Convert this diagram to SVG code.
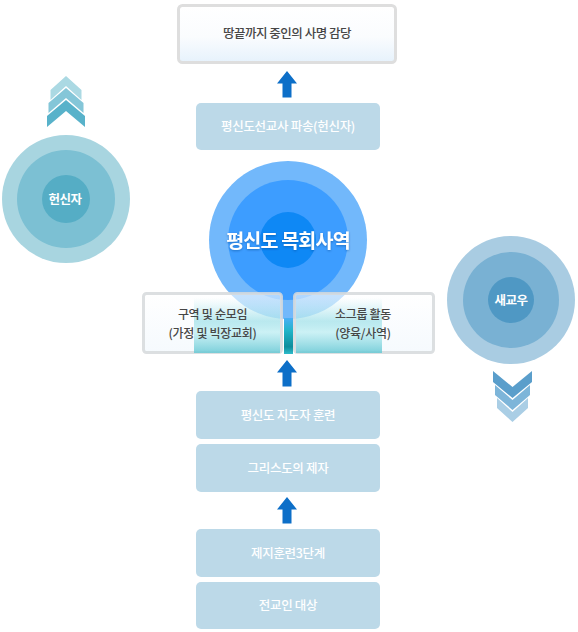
<svg xmlns="http://www.w3.org/2000/svg" width="578" height="632" viewBox="0 0 578 632">
<defs>
<style>
text{font-family:"Noto Sans CJK KR","Noto Sans",sans-serif;text-anchor:middle}
.lt{fill:#bcd9e8}
.wt{fill:#ffffff;font-size:12.5px;font-weight:500;letter-spacing:-0.3px}
.dk{fill:#464646;font-size:12.5px;font-weight:500;letter-spacing:-0.4px}
.bx{fill:#464646;font-size:12px;font-weight:500;letter-spacing:-0.3px}
.arr{fill:#0d6fc8}
.cap{fill:#ffffff;font-size:12.5px;font-weight:bold;letter-spacing:-0.5px}
</style>
<linearGradient id="topg" x1="0" y1="0" x2="0" y2="1">
<stop offset="0" stop-color="#ffffff"/><stop offset="0.55" stop-color="#fafcfe"/><stop offset="1" stop-color="#e6f2fc"/>
</linearGradient>
<linearGradient id="boxg" x1="0" y1="0" x2="0" y2="1">
<stop offset="0" stop-color="#ffffff" stop-opacity="0.6"/><stop offset="1" stop-color="#eef6fd" stop-opacity="0.55"/>
</linearGradient>
<linearGradient id="teal" x1="0" y1="0" x2="0" y2="1">
<stop offset="0" stop-color="#9fe2ea" stop-opacity="0"/><stop offset="0.42" stop-color="#8edbe4" stop-opacity="0.6"/><stop offset="0.62" stop-color="#bdeef2" stop-opacity="0.75"/><stop offset="1" stop-color="#66c8d4" stop-opacity="0.85"/>
</linearGradient>
<linearGradient id="stem" x1="0" y1="0" x2="0" y2="1">
<stop offset="0" stop-color="#4aaef6"/><stop offset="0.35" stop-color="#22b4c8"/><stop offset="0.8" stop-color="#0f8d9c"/><stop offset="1" stop-color="#2fbccb"/>
</linearGradient>
<filter id="sh" x="-10%" y="-30%" width="120%" height="160%">
<feDropShadow dx="0" dy="1" stdDeviation="1" flood-color="#0a3a80" flood-opacity="0.45"/>
</filter>
<path id="arrow" d="M0,0 L10,12.5 L4.5,12.5 L4.5,26.5 L-4.5,26.5 L-4.5,12.5 L-10,12.5 Z"/>
</defs>

<g id="top-box">
<rect x="178.5" y="5.5" width="217" height="57" rx="4" fill="url(#topg)" stroke="#dedede" stroke-width="3"/>
<text x="287" y="38" class="dk" style="letter-spacing:-0.5px">땅끝까지 중인의 사명 감당</text>
</g>

<g id="sender-box">
<rect x="196" y="103" width="184" height="47" rx="5" class="lt"/>
<text x="288" y="131" class="wt">평신도선교사 파송(헌신자)</text>
</g>

<g id="center">
<circle cx="288" cy="240" r="79" fill="#72b8fb"/>
<circle cx="288" cy="240" r="60" fill="#3d9dff"/>
<circle cx="288" cy="240" r="28" fill="#0e88f5"/>
<rect x="284" y="318" width="9" height="36" fill="url(#stem)"/>
<text x="288" y="247.5" fill="#ffffff" filter="url(#sh)" style="font-size:19.5px;font-weight:bold;letter-spacing:-0.8px">평신도 목회사역</text>
</g>

<g id="cell-box">
<rect x="143.5" y="293.5" width="138" height="59" rx="3" fill="url(#boxg)" stroke="#d6d9dc" stroke-opacity="0.85" stroke-width="3"/>
<rect x="194" y="298" width="86" height="55" fill="url(#teal)"/>
<text x="212.5" y="319" class="bx">구역 및 순모임</text>
<text x="212.5" y="337.5" class="bx">(가정 및 빅장교회)</text>
</g>

<g id="group-box">
<rect x="294.5" y="293.5" width="139" height="59" rx="3" fill="url(#boxg)" stroke="#d6d9dc" stroke-opacity="0.85" stroke-width="3"/>
<rect x="296" y="298" width="86" height="55" fill="url(#teal)"/>
<text x="363" y="319" class="bx">소그룹 활동</text>
<text x="363" y="337.5" class="bx">(양육/사역)</text>
</g>

<g id="leader-box">
<rect x="196" y="391" width="184" height="48" rx="5" class="lt"/>
<text x="288" y="419.5" class="wt">평신도 지도자 훈련</text>
</g>

<g id="disciple-box">
<rect x="196" y="444" width="184" height="48" rx="5" class="lt"/>
<text x="288" y="472.5" class="wt">그리스도의 제자</text>
</g>

<g id="stage-box">
<rect x="196" y="529" width="184" height="48" rx="5" class="lt"/>
<text x="288" y="557.5" class="wt">제지훈련3단계</text>
</g>

<g id="all-box">
<rect x="196" y="582" width="184" height="47" rx="5" class="lt"/>
<text x="288" y="610" class="wt">전교인 대상</text>
</g>

<g id="devoted">
<circle cx="66" cy="199" r="64" fill="#a8d5e0"/>
<circle cx="66" cy="199" r="49" fill="#7cc0d3"/>
<circle cx="66" cy="199" r="24" fill="#55adc5"/>
<text x="65" y="203.5" class="cap">헌신자</text>
<path d="M66,76 L81.5,90 L81.5,100 L66,86 L50.5,100 L50.5,90 Z" fill="#abd9e3"/>
<path d="M66,88 L83.5,103 L83.5,113 L66,98 L48.5,113 L48.5,103 Z" fill="#84c6d8"/>
<path d="M66,100 L85,116 L85,127 L66,111 L47,127 L47,116 Z" fill="#58b2ca"/>
</g>

<g id="newcomer">
<circle cx="511" cy="300" r="64" fill="#a9cce2"/>
<circle cx="511" cy="300" r="48" fill="#79b1d3"/>
<circle cx="511" cy="300" r="23" fill="#4f98c4"/>
<text x="511" y="304.5" class="cap">새교우</text>
<path d="M497,398 L512.5,412 L528,398 L528,408 L512.5,422 L497,408 Z" fill="#aacee5"/>
<path d="M495,385 L512.5,400 L530,385 L530,395 L512.5,410 L495,395 Z" fill="#7db5d9"/>
<path d="M493,371 L512.5,387 L532,371 L532,382 L512.5,398 L493,382 Z" fill="#5a9ecb"/>
</g>

<g id="connectors">
<use href="#arrow" x="287" y="71" class="arr"/>
<use href="#arrow" x="287" y="360" class="arr"/>
<use href="#arrow" x="287" y="497" class="arr"/>
</g>
</svg>
